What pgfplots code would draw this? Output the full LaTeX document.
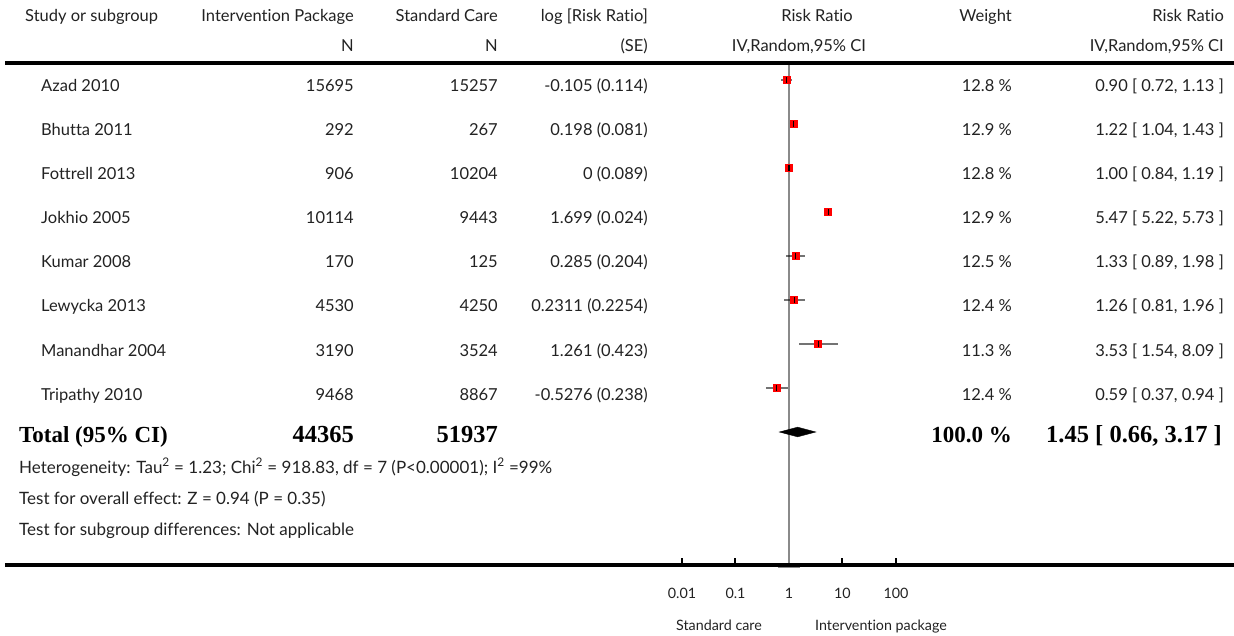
\documentclass[border=0pt]{standalone}
\usepackage{pgfplots}
\pgfplotsset{compat=1.18}
\usepackage{pgfplotstable}
\usepackage{fontspec}
\setmainfont{Lato}[Ligatures=NoCommon]
\newfontfamily\boldserif{Liberation Serif}[BoldFont={Liberation Serif Bold}]

\definecolor{txt}{HTML}{222222}
\definecolor{nullline}{HTML}{8A8A8A}
\definecolor{boxred}{HTML}{FF0000}

% study estimates: row position (counted from the bottom), risk ratio, 95% CI
\pgfplotstableread{
y  rr    lo    hi
9  0.90  0.72  1.13
8  1.22  1.04  1.43
7  1.00  0.84  1.19
6  5.47  5.22  5.73
5  1.33  0.89  1.98
4  1.26  0.81  1.96
3  3.53  1.54  8.09
2  0.59  0.37  0.94
}\studies

\begin{document}
\begin{tikzpicture}[
  t/.style={font=\fontsize{16.5}{20}\selectfont, text=txt, inner sep=0pt},
  small/.style={font=\fontsize{17}{19}\selectfont, text=txt, inner sep=0pt},
  dir/.style={font=\fontsize{14.3}{17}\selectfont, text=txt, inner sep=0pt},
  tot/.style={font=\fontsize{23}{26}\selectfont\boldserif\bfseries, text=black, inner sep=0pt},
  totn/.style={font=\fontsize{24.5}{26}\selectfont\boldserif\bfseries, text=black, inner sep=0pt},
]
\useasboundingbox (0pt,0pt) rectangle (1234pt,-636pt);

\begin{axis}[
  at={(5pt,-565pt)}, anchor=south west,
  scale only axis, width=1229pt, height=502pt,
  xmode=log, log basis x=10,
  xmin=2.218e-15, xmax=2.079e8,
  ymin=-2.02273, ymax=9.38636,
  axis x line=bottom, axis y line=none,
  axis line style={-, line width=4pt, black},
  xtick={0.01,0.1,1,10,100},
  xticklabels={\textnormal{0.01},\textnormal{0.1},\textnormal{1},\textnormal{10},\textnormal{100}},
  minor xtick={}, xminorticks=false,
  tick align=inside,
  major tick length=7pt,
  every tick/.style={black, line width=2pt},
  xticklabel style={font=\fontsize{14.3}{17}\selectfont, text=txt, anchor=base, yshift=-33pt},
  clip=false,
]
% line of no effect
\addplot[nullline, line width=1.6pt] coordinates {(1,-1.977) (1,9.38636)};
% study squares
\addplot[only marks, mark=square*, mark size=3.5pt,
  mark options={fill=boxred, draw=boxred, line width=0pt}] table[x=rr, y=y] {\studies};
% confidence intervals
\addplot[black, opacity=0.55, line width=2pt, unbounded coords=jump] coordinates {
  (0.72,9) (1.13,9) (nan,nan)
  (1.04,8) (1.43,8) (nan,nan)
  (0.84,7) (1.19,7) (nan,nan)
  (5.22,6) (5.73,6) (nan,nan)
  (0.89,5) (1.98,5) (nan,nan)
  (0.81,4) (1.96,4) (nan,nan)
  (1.54,3) (8.09,3) (nan,nan)
  (0.37,2) (0.94,2)
};
% point estimate ticks
\addplot[only marks, mark=|, mark size=3pt,
  mark options={black, line width=1.2pt}] table[x=rr, y=y] {\studies};
% pooled estimate
\addplot[fill=black, draw=black] coordinates {
  (0.66,1) (1.45,1.11) (3.17,1) (1.45,0.89)} -- cycle;
% end of the no-effect line below the axis rule
\addplot[nullline, line width=1pt] coordinates {(0.623,-2.075) (1.605,-2.075)};
\end{axis}

% header rule
\draw[line width=4pt] (5pt,-62.7pt) -- (1234pt,-62.7pt);

% column headings
\node[t, anchor=base west] at (25pt,-21.5pt) {Study or subgroup};
\node[t, anchor=base east] at (354pt,-21.5pt) {Intervention Package};
\node[t, anchor=base east] at (498pt,-21.5pt) {Standard Care};
\node[t, anchor=base east] at (648pt,-21.5pt) {log [Risk Ratio]};
\node[t, anchor=base] at (817pt,-21.5pt) {Risk Ratio};
\node[t, anchor=base east] at (1012pt,-21.5pt) {Weight};
\node[t, anchor=base east] at (1224pt,-21.5pt) {Risk Ratio};
\node[t, anchor=base east] at (354pt,-51.5pt) {N};
\node[t, anchor=base east] at (498pt,-51.5pt) {N};
\node[t, anchor=base east] at (648pt,-51.5pt) {(SE)};
\node[t, anchor=base] at (799pt,-51.5pt) {IV,Random,95\% CI};
\node[t, anchor=base east] at (1224pt,-51.5pt) {IV,Random,95\% CI};

% study rows
\foreach \yy/\name/\na/\nb/\lse/\w/\ci in {
  92/Azad 2010/15695/15257/-0.105 (0.114)/12.8 \%/0.90 [ 0.72{,} 1.13 ],
  136/Bhutta 2011/292/267/0.198 (0.081)/12.9 \%/1.22 [ 1.04{,} 1.43 ],
  180/Fottrell 2013/906/10204/0 (0.089)/12.8 \%/1.00 [ 0.84{,} 1.19 ],
  224/Jokhio 2005/10114/9443/1.699 (0.024)/12.9 \%/5.47 [ 5.22{,} 5.73 ],
  268/Kumar 2008/170/125/0.285 (0.204)/12.5 \%/1.33 [ 0.89{,} 1.98 ],
  312/Lewycka 2013/4530/4250/0.2311 (0.2254)/12.4 \%/1.26 [ 0.81{,} 1.96 ],
  356/Manandhar 2004/3190/3524/1.261 (0.423)/11.3 \%/3.53 [ 1.54{,} 8.09 ],
  400/Tripathy 2010/9468/8867/-0.5276 (0.238)/12.4 \%/0.59 [ 0.37{,} 0.94 ]} {
  \node[t, anchor=base west] at (41pt,-\yy pt) {\name};
  \node[t, anchor=base east] at (354pt,-\yy pt) {\na};
  \node[t, anchor=base east] at (498pt,-\yy pt) {\nb};
  \node[t, anchor=base east] at (648pt,-\yy pt) {\lse};
  \node[t, anchor=base east] at (1012pt,-\yy pt) {\w};
  \node[t, anchor=base east] at (1224pt,-\yy pt) {\ci};
}

% total row
\node[tot, anchor=base west] at (19pt,-442pt) {Total (95\% CI)};
\node[totn, anchor=base east] at (354pt,-442pt) {44365};
\node[totn, anchor=base east] at (498pt,-442pt) {51937};
\node[tot, anchor=base east] at (1012pt,-442pt) {100.0 \%};
\node[totn, anchor=base east] at (1222pt,-442pt) {1.45 [ 0.66, 3.17 ]};

% summary statistics
\node[small, anchor=base west] at (19pt,-473pt) {Heterogeneity: Tau\textsuperscript{2} = 1.23; Chi\textsuperscript{2} = 918.83, df = 7 (P<0.00001); I\textsuperscript{2} =99\%};
\node[small, anchor=base west] at (19pt,-504pt) {Test for overall effect: Z = 0.94 (P = 0.35)};
\node[small, anchor=base west] at (19pt,-535pt) {Test for subgroup differences: Not applicable};

% direction labels
\node[dir, anchor=base] at (719pt,-630pt) {Standard care};
\node[dir, anchor=base] at (881pt,-630pt) {Intervention package};
\end{tikzpicture}
\end{document}
